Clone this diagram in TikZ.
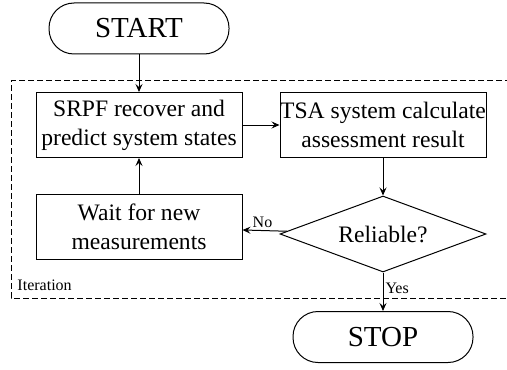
\documentclass[tikz,border=0pt]{standalone}
\usepackage{fontspec}
\setmainfont{Liberation Serif}
\usetikzlibrary{shapes.geometric,arrows.meta}

\tikzset{
  process/.style={draw, rectangle, minimum width=103pt, minimum height=32.5pt,
    inner sep=0pt, align=center, font=\fontsize{11.8}{14.5}\selectfont},
  terminal/.style={draw, rectangle, rounded corners=12.5pt, minimum width=90pt,
    minimum height=25.5pt, font=\fontsize{14.5}{16}\selectfont},
  decision/.style={draw, diamond, aspect=2.7, inner sep=0pt, minimum width=103pt,
    minimum height=38pt, font=\fontsize{11.8}{14.5}\selectfont},
  flow/.style={-{Stealth[length=4pt,width=3.5pt,inset=1.5pt]}},
  small/.style={font=\fontsize{8}{9}\selectfont, inner sep=1pt},
}

\begin{document}
\begin{tikzpicture}[x=0.5pt, y=-0.5pt, line width=0.5pt]
\useasboundingbox (0,0) rectangle (507,369);
% iteration frame
\draw[dash pattern=on 3pt off 1.5pt] (520,81) -- (11,81) -- (11,298) -- (520,298);
\node[small, anchor=west] (iter) at (15,285) {Iteration};
% nodes
\node[terminal] (start) at (139,28.5) {START};
\node[process] (srpf) at (139,125) {SRPF recover and\\predict system states};
\node[process] (tsa) at (383,125) {TSA system calculate\\assessment result};
\node[process] (wait) at (139,227) {Wait for new\\measurements};
\node[decision] (rel) at (383,234) {Reliable?};
\node[terminal] (stop) at (383,337) {STOP};
% connectors
\draw[flow] (start) -- (srpf);
\draw[flow] (srpf) -- (tsa);
\draw[flow] (tsa) -- (rel);
\draw[flow] (rel) -- node[small, above, pos=0.55] {No} (wait);
\draw[flow] (rel) -- node[small, right, pos=0.4] {Yes} (stop);
\draw[flow] (wait) -- (srpf);
\end{tikzpicture}
\end{document}
